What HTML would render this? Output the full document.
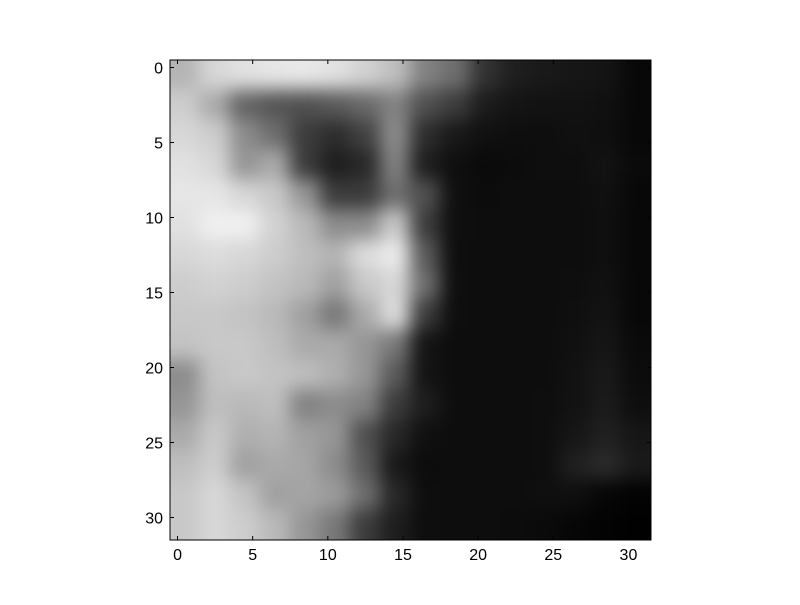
<!DOCTYPE html>
<html><head><meta charset="utf-8"><style>
html,body{margin:0;padding:0;background:#fff;}
svg text{font-family:"Liberation Sans",sans-serif;font-size:16px;fill:#000;}
</style></head><body>
<svg id="chart" width="800" height="600" viewBox="0 0 800 600" xmlns="http://www.w3.org/2000/svg">
<defs>
<clipPath id="axclip"><rect x="170" y="60" width="481" height="480"/></clipPath>
<filter id="smooth" filterUnits="userSpaceOnUse" x="80" y="-30" width="660" height="660" color-interpolation-filters="sRGB"><feGaussianBlur stdDeviation="9"/></filter>
</defs>
<g clip-path="url(#axclip)"><g id="cells" filter="url(#smooth)"></g></g>
<g id="axes"></g>
</svg>
<script>
// grayscale intensity per 2x2 block (row-major, rows top->bottom)
const r0=[180,215,225,230,232,225,210,190,130,110,50,30,25,22,20,8];
const r1=[205,170,100,85,80,90,105,130,80,60,28,20,18,18,16,8];
const r2=[215,205,140,110,60,45,65,140,45,25,16,14,14,16,15,8];
const r3=[225,215,150,170,60,30,40,130,30,15,10,12,14,14,18,10];
const r4=[230,230,215,200,150,60,60,110,80,15,12,13,13,13,16,8];
const r5=[225,240,240,210,185,140,140,200,60,15,13,13,13,13,15,8];
const r6=[215,220,215,205,190,180,220,235,90,14,13,13,13,13,15,8];
const r7=[205,210,205,195,185,160,200,215,110,14,13,13,13,14,17,8];
const r8=[200,200,195,185,160,120,170,220,60,14,13,13,13,15,19,8];
const r9=[195,200,200,190,170,170,150,120,20,13,13,13,13,16,22,10];
const r10=[140,195,200,195,190,175,150,90,20,13,13,13,13,18,25,12];
const r11=[150,190,185,190,130,140,130,60,30,13,13,13,14,18,27,14];
const r12=[170,200,175,180,160,150,80,40,16,13,13,13,14,22,32,22];
const r13=[190,205,160,170,165,140,90,25,12,13,13,13,14,32,42,26];
const r14=[200,215,195,160,165,155,110,40,14,13,13,13,15,15,6,3];
const r15=[200,215,205,185,150,120,60,30,14,13,13,12,10,6,3,1];
const grid=[r0,r1,r2,r3,r4,r5,r6,r7,r8,r9,r10,r11,r12,r13,r14,r15];
const xTicks=[0,5,10,15,20,25,30];
const yTicks=[0,5,10,15,20,25,30];

const NS="http://www.w3.org/2000/svg";
const X0=170,X1=651,Y0=60,Y1=540;
const sx=v=>X0+(v+0.5)*(X1-X0)/32;
const sy=v=>Y0+(v+0.5)*(Y1-Y0)/32;
const cells=document.getElementById('cells');
const EXT=40;
grid.forEach((row,i)=>row.forEach((v,j)=>{
  const r=document.createElementNS(NS,'rect');
  
  
  let xa=sx(j*2-0.5), xb=sx(j*2+1.5), ya=sy(i*2-0.5), yb=sy(i*2+1.5);
  if(j===0) xa-=EXT;
  if(j===row.length-1) xb+=EXT;
  if(i===0) ya-=EXT;
  if(i===grid.length-1) yb+=EXT;
  r.setAttribute('x',xa-0.5);r.setAttribute('y',ya-0.5);
  r.setAttribute('width',xb-xa+1);r.setAttribute('height',yb-ya+1);
  r.setAttribute('fill','rgb('+v+','+v+','+v+')');
  cells.appendChild(r);
}));
const ax=document.getElementById('axes');
function el(tag,attrs,txt){const e=document.createElementNS(NS,tag);for(const k in attrs)e.setAttribute(k,attrs[k]);if(txt!==undefined)e.textContent=txt;ax.appendChild(e);return e;}
const frame=el('rect',{x:X0,y:Y0,width:X1-X0,height:Y1-Y0,fill:'none',stroke:'#000','stroke-width':1});


xTicks.forEach(t=>{
  const x=sx(t);
  const a=el('line',{x1:x,x2:x,y1:Y1,y2:Y1-4,stroke:'#000'});
  
  
  const b=el('line',{x1:x,x2:x,y1:Y0,y2:Y0+4,stroke:'#000'});
  
  
  const l=el('text',{x:x,y:Y1+20,'text-anchor':'middle'},t);
  
  
});
yTicks.forEach(t=>{
  const y=sy(t);
  const a=el('line',{x1:X0,x2:X0+4,y1:y,y2:y,stroke:'#000'});
  
  
  const b=el('line',{x1:X1,x2:X1-4,y1:y,y2:y,stroke:'#000'});
  
  
  const l=el('text',{x:X0-7,y:y+6,'text-anchor':'end'},t);
  
  
});
</script>
</body></html>
